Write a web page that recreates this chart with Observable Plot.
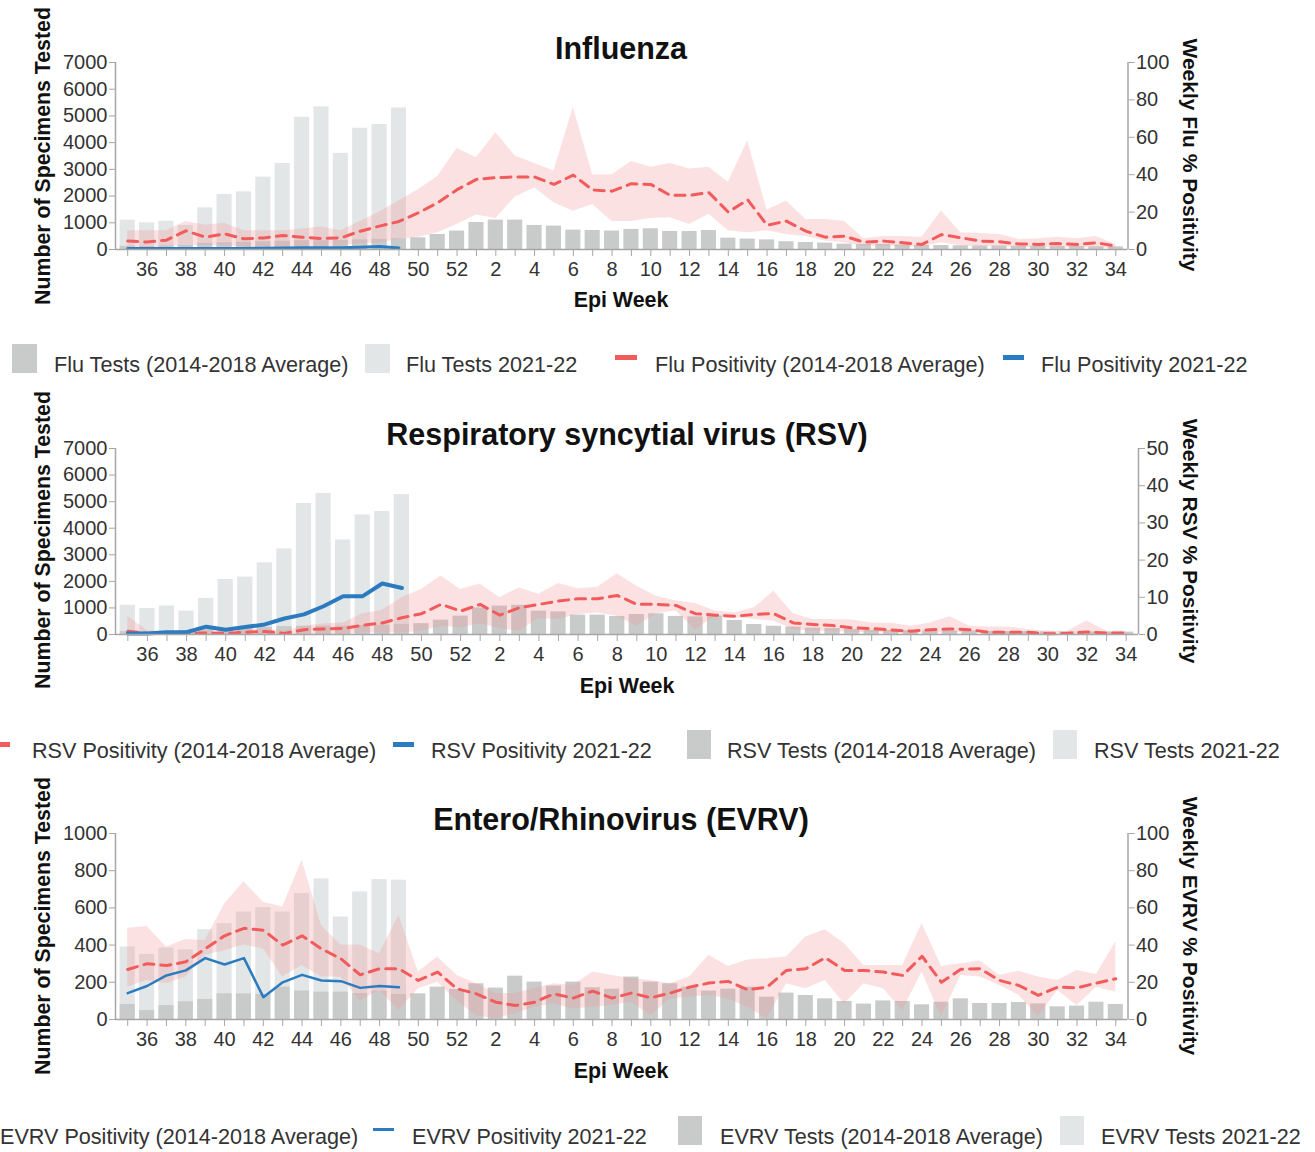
<!DOCTYPE html>
<html><head><meta charset="utf-8">
<script src="https://cdn.jsdelivr.net/npm/d3@7"></script>
<script src="https://cdn.jsdelivr.net/npm/@observablehq/plot@0.6"></script>
<style>
html,body{margin:0;padding:0;background:#fff;}
body{width:1315px;height:1152px;position:relative;overflow:hidden;font-family:"Liberation Sans",Arial,sans-serif;color:#222;}
.abs{position:absolute;white-space:nowrap;}
.title{font-weight:bold;font-size:30.5px;color:#111;transform:translate(-50%,-50%);}
.xlab{font-weight:bold;font-size:21.4px;color:#111;transform:translate(-50%,-50%);}
.ylab{font-weight:bold;font-size:21.3px;color:#111;transform:translate(-50%,-50%) rotate(-90deg);}
.ylabR{font-weight:bold;font-size:21px;color:#111;transform:translate(-50%,-50%) rotate(90deg);}
.leg{font-size:21.6px;color:#333;transform:translateY(-50%);}
.sw{position:absolute;}
</style></head>
<body>
<script>
// ---- categories ----
const weeks = [35,36,37,38,39,40,41,42,43,44,45,46,47,48,49,50,51,52,1,2,3,4,5,6,7,8,9,10,11,12,13,14,15,16,17,18,19,20,21,22,23,24,25,26,27,28,29,30,31,32,33,34];

// ---- Influenza ----
const fluAvgTests = [120,110,130,150,230,250,270,290,310,330,330,340,360,380,400,440,560,690,1010,1100,1100,900,875,725,710,690,750,775,675,675,710,425,390,360,290,260,240,200,190,190,170,150,150,140,130,130,120,120,110,110,100,100];
const fluTests2122 = [1100,1000,1060,900,1560,2060,2160,2710,3220,4950,5340,3600,4540,4680,5300];
const fluAvgPos = [4.5,4,5,10,6.6,8.4,5.7,6.2,7.5,6.6,5.9,6.2,9.8,12.5,15,19.6,25,32,37.5,38.4,38.8,38.8,34.8,39.8,31.8,31.2,35.2,34.8,29,29,30.4,20,26.6,13,15.2,9.8,6.6,7.1,3.9,4.5,3.6,2.7,8,6.3,4.5,4.1,3,2.7,3.2,2.7,3.6,1.8];
const fluPosHi = [10,10,10,15,13,14,10,10,10,11,12,10,15,20,26,32,39,54,49,62.5,50,46,42,76,40,40,47,44,46,43,44,36,58,21,26,16,16,15,5.7,7,7,6.6,20.6,9,8.6,8,5.4,5.7,6.6,5.7,7,2.7];
const fluPosLo = [1,1,1.5,2,2,2,1.5,1.5,1.5,1.5,1.5,2,3,3.6,5.4,6.6,9,13.4,18.4,16.6,28,33,25,20.5,24,15,15,16.6,17,13.4,18.8,10,9,10,8,7,4.5,3.6,1.8,2,1.5,1.2,3.6,2,1.5,1.5,1,1,1,1,1,0.5];
const fluPos2122 = [0.5,0.5,0.5,0.5,0.5,0.6,0.6,0.7,0.8,0.9,1.0,1.0,1.2,1.6,0.8];

// ---- RSV ----
const rsvAvgTests = [110,100,120,140,200,230,250,270,300,310,310,320,340,350,380,410,540,690,1000,1070,1100,880,850,730,730,680,750,780,680,665,690,530,375,310,280,240,225,190,160,150,140,130,130,130,120,110,110,100,100,100,90,90];
const rsvTests2122 = [1100,980,1070,880,1360,2070,2160,2700,3220,4930,5310,3560,4500,4630,5270];
const rsvAvgPos = [0.9,0.3,0.3,0.3,0.4,0.3,0.6,0.8,0.3,1.3,1.5,1.6,2.5,3.1,4.5,5.6,8.1,6.3,8.1,5.2,7.2,8.1,9,9.6,9.6,10.5,8.1,8.1,7.8,5.6,5.2,4.9,5.4,5.6,3.1,2.7,2.4,1.8,1.6,1.2,0.9,1.3,1.5,1.3,0.6,0.6,0.6,0.2,0.3,0.7,0.4,0.4];
const rsvPosHi = [4.9,1.0,0.8,0.8,1.0,0.9,1.2,1.5,0.9,2.2,2.9,3.1,5.6,6.5,9.9,12.1,15.7,12.1,13.6,9.9,12.5,10.8,13.7,12.3,12.7,16.3,13,10.3,9,8.3,6.3,5.8,7.2,11.6,5.6,4,4,3.9,3.1,3.0,2.2,3.1,4.8,2.2,2,2,1.3,0.9,0.9,3.6,0.9,0.9];
const rsvPosLo = [0,0,0,0,0,0,0,0,0,0,0,0.1,0.4,0.4,0.4,0.9,2.2,1.8,2.9,1.6,0.9,4.3,4,5.4,5.8,4.9,2.2,5.6,6.3,1.3,4.9,4.5,4,3.6,1.3,0.9,0.8,0.6,0.5,0.4,0.3,0.4,0.5,0.4,0.2,0.2,0.2,0,0,0.1,0.1,0.1];
const rsvPos2122 = [0.3,0.3,0.6,0.6,2.1,1.3,2.0,2.7,4.3,5.4,7.6,10.3,10.3,13.7,12.5];

// ---- EVRV ----
const evrvAvgTests = [81,48,75,95,108,138,138,135,174,153,147,147,140,153,135,138,174,162,192,169,233,201,180,201,171,163,228,201,192,174,153,163,174,120,142,129,111,97,83,100,97,79,93,111,86,86,91,84,68,72,93,81];
const evrvTests2122 = [390,350,384,375,483,515,578,601,578,677,756,551,686,752,749];
const evrvAvgPos = [26.9,30,29,31,38,45,49,48,40,45,38,32.7,24,27.3,27.3,21,25.5,16.5,13.8,9.3,7.5,9.3,13.8,11.5,15.3,11.5,14.2,11.7,14.2,17.4,19.6,20.5,16,17.4,26.4,27.3,33.2,26.4,26.4,25.5,23.7,34,20,27,27.3,21,18.3,13,17.4,17,19.6,21.9];
const evrvPosHi = [49,50,39,43,42.5,62,74,63,60.5,85.6,50.6,40,40,35.4,56,25.5,33.6,23.7,19.2,14,14,16.5,19.2,18.3,25.5,23.7,22,21,19.2,22.8,34.5,28.5,32,32.7,33.6,44.3,48.3,40.7,29,29,29,51.5,28.5,30,31.4,23.7,26,22.8,21,26.4,24.2,41.6];
const evrvPosLo = [17.4,21,19.2,22.8,34.5,37,40,38,22.8,29,22.8,22.8,10,15.6,4.8,16.5,20,10,2,0.4,3,6.6,8.4,5.7,6.6,7.5,9.3,2,11,12,13,11,6.6,0.4,19.2,16.5,21,8.4,19.2,16.5,4.8,25.5,1.3,23.7,22.8,18.3,13,1.3,15.6,7.5,17.4,14.7];
const evrvPos2122 = [14.2,18,23.7,26.4,33,29.6,33,12,20,24,21,20.6,17,18,17.4];

// ---- axis ticks ----
const testTicks7000 = [0,1000,2000,3000,4000,5000,6000,7000];
const testTicks1000 = [0,200,400,600,800,1000];
const posTicks100 = [0,20,40,60,80,100];
const posTicks50 = [0,10,20,30,40,50];

const COL = {avg:"#c9caca", cur:"#e3e6e7", band:"#f39a9a", red:"#f25b5b", blue:"#2b7bc0", axis:"#a6a6a6", tick:"#333"};
const FONT = '"Liberation Sans", Arial, sans-serif';

function addDiv(cls, text, left, top, extra) {
  const d = document.createElement("div");
  d.className = "abs " + cls;
  d.textContent = text;
  d.style.left = left + "px";
  d.style.top = top + "px";
  if (extra) Object.assign(d.style, extra);
  document.body.appendChild(d);
  return d;
}
function swatch(left, top, w, h, color) {
  const d = document.createElement("div");
  d.className = "sw";
  Object.assign(d.style, {left: left+"px", top: top+"px", width: w+"px", height: h+"px", background: color});
  document.body.appendChild(d);
}

function panel(cfg) {
  const {top, rightX, bottomM, yMax, k, avgTests, tests2122, avgPos, hi, lo, pos2122, leftTicks, rightTicks, blueW} = cfg;
  const x0 = -0.63, x1 = 51.63;
  const idx = weeks.map((w, i) => i);
  const rows = weeks.map((w, i) => ({i, w, avgT: avgTests[i], pos: avgPos[i], hi: hi[i], lo: lo[i]}));
  const cur = tests2122.map((v, i) => ({i, v}));
  const curPos = pos2122.map((v, i) => ({i, v}));
  const hw = 0.39;
  const p = Plot.plot({
    width: 1315, height: 300,
    marginTop: 62, marginBottom: bottomM, marginLeft: 115, marginRight: 1315 - rightX,
    x: {domain: [x0, x1], axis: null},
    y: {domain: [0, yMax], axis: null},
    style: {fontFamily: FONT, fontSize: "20px", background: "transparent", overflow: "visible"},
    marks: [
      Plot.rect(cur, {x1: d => d.i - hw, x2: d => d.i + hw, y1: d => 0, y2: "v", fill: COL.cur}),
      Plot.rect(rows, {x1: d => d.i - hw, x2: d => d.i + hw, y1: d => 0, y2: "avgT", fill: COL.avg}),
      Plot.areaY(rows, {x: "i", y1: d => d.lo * k, y2: d => d.hi * k, fill: COL.band, fillOpacity: 0.3}),
      Plot.lineY(rows, {x: "i", y: d => d.pos * k, stroke: COL.red, strokeWidth: 3, strokeDasharray: "10,7"}),
      Plot.lineY(curPos, {x: "i", y: d => d.v * k, stroke: COL.blue, strokeWidth: blueW}),
      Plot.ruleY([0], {stroke: COL.axis, strokeWidth: 1.5}),
      Plot.ruleX([x0], {stroke: COL.axis, strokeWidth: 1.5}),
      Plot.ruleX([x1], {stroke: COL.axis, strokeWidth: 1.5}),
      Plot.axisX({ticks: idx, tickFormat: i => (weeks[i] % 2 === 0 ? String(weeks[i]) : ""), tickSize: 7, tickPadding: 5, stroke: COL.axis, fill: COL.tick, fontSize: 20, label: null}),
      Plot.axisY({anchor: "left", ticks: leftTicks, tickFormat: d => String(d), tickSize: 6, tickPadding: 2, stroke: COL.axis, fill: COL.tick, fontSize: 20, label: null}),
      Plot.axisY({anchor: "right", ticks: rightTicks.map(v => v * k), tickFormat: v => String(Math.round(v / k)), tickSize: 6, tickPadding: 2, stroke: COL.axis, fill: COL.tick, fontSize: 20, label: null})
    ]
  });
  const wrap = document.createElement("div");
  wrap.className = "abs";
  wrap.style.left = "0px";
  wrap.style.top = top + "px";
  wrap.appendChild(p);
  document.body.appendChild(wrap);
}

// Panel 1: Influenza
panel({top: 0, rightX: 1127.5, bottomM: 51, yMax: 7000, k: 70, avgTests: fluAvgTests, tests2122: fluTests2122, avgPos: fluAvgPos, hi: fluPosHi, lo: fluPosLo, pos2122: fluPos2122, leftTicks: testTicks7000, rightTicks: posTicks100, blueW: 3});
// Panel 2: RSV
panel({top: 386, rightX: 1138, bottomM: 52, yMax: 7000, k: 140, avgTests: rsvAvgTests, tests2122: rsvTests2122, avgPos: rsvAvgPos, hi: rsvPosHi, lo: rsvPosLo, pos2122: rsvPos2122, leftTicks: testTicks7000, rightTicks: posTicks50, blueW: 4});
// Panel 3: EVRV
panel({top: 771, rightX: 1127.5, bottomM: 52, yMax: 1000, k: 10, avgTests: evrvAvgTests, tests2122: evrvTests2122, avgPos: evrvAvgPos, hi: evrvPosHi, lo: evrvPosLo, pos2122: evrvPos2122, leftTicks: testTicks1000, rightTicks: posTicks100, blueW: 2.5});

// Titles and axis labels
addDiv("title", "Influenza", 621, 48);
addDiv("title", "Respiratory syncytial virus (RSV)", 627, 434);
addDiv("title", "Entero/Rhinovirus (EVRV)", 621, 819);
addDiv("xlab", "Epi Week", 621, 300);
addDiv("xlab", "Epi Week", 627, 686);
addDiv("xlab", "Epi Week", 621, 1071);
addDiv("ylab", "Number of Specimens Tested", 43, 156);
addDiv("ylab", "Number of Specimens Tested", 43, 540);
addDiv("ylab", "Number of Specimens Tested", 43, 926);
addDiv("ylabR", "Weekly Flu % Positivity", 1190, 155);
addDiv("ylabR", "Weekly RSV % Positivity", 1190, 541);
addDiv("ylabR", "Weekly EVRV % Positivity", 1190, 926);

// Legends
// Flu (y ~365)
swatch(12, 344, 25, 29, COL.avg); addDiv("leg", "Flu Tests (2014-2018 Average)", 54, 365);
swatch(365, 344, 25, 29, COL.cur); addDiv("leg", "Flu Tests 2021-22", 406, 365);
swatch(615, 355, 22, 5, COL.red); addDiv("leg", "Flu Positivity (2014-2018 Average)", 655, 365);
swatch(1003, 355, 21, 5, COL.blue); addDiv("leg", "Flu Positivity 2021-22", 1041, 365);
// RSV (y ~751)
swatch(-10, 742, 20, 5, COL.red); addDiv("leg", "RSV Positivity (2014-2018 Average)", 32, 751);
swatch(393, 742, 21, 5, COL.blue); addDiv("leg", "RSV Positivity 2021-22", 431, 751);
swatch(687, 730, 24, 29, COL.avg); addDiv("leg", "RSV Tests (2014-2018 Average)", 727, 751);
swatch(1053, 730, 24, 29, COL.cur); addDiv("leg", "RSV Tests 2021-22", 1094, 751);
// EVRV (y ~1137)
swatch(-40, 1128, 20, 5, COL.red); addDiv("leg", "EVRV Positivity (2014-2018 Average)", 0, 1137);
swatch(373, 1128, 21, 3, COL.blue); addDiv("leg", "EVRV Positivity 2021-22", 412, 1137);
swatch(678, 1116, 24, 29, COL.avg); addDiv("leg", "EVRV Tests (2014-2018 Average)", 720, 1137);
swatch(1060, 1116, 24, 29, COL.cur); addDiv("leg", "EVRV Tests 2021-22", 1101, 1137);
</script>
</body></html>
